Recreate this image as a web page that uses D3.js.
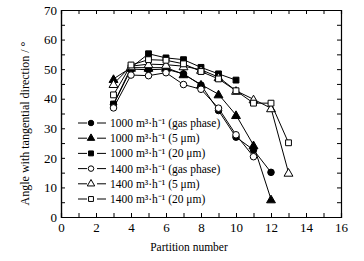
<!DOCTYPE html>
<html>
<head>
<meta charset="utf-8">
<script src="https://cdn.jsdelivr.net/npm/d3@7"></script>
<style>
  body { margin: 0; background: #fff; }
  text { font-family: "Liberation Serif", "Times New Roman", serif; fill: #000; }
</style>
</head>
<body>
<div class="chart-box"></div>
<script>
/* Data */
const xTicks = [0, 2, 4, 6, 8, 10, 12, 14, 16];
const yTicks = [0, 10, 20, 30, 40, 50, 60, 70];

const seriesNames = [
  "1000 m³·h⁻¹ (gas phase)",
  "1000 m³·h⁻¹ (5 μm)",
  "1000 m³·h⁻¹ (20 μm)",
  "1400 m³·h⁻¹ (gas phase)",
  "1400 m³·h⁻¹ (5 μm)",
  "1400 m³·h⁻¹ (20 μm)"
];
const seriesSymbols = ["circle", "triangle", "square", "circle", "triangle", "square"];
const seriesFilled = [true, true, true, false, false, false];

const gas1000 = [38, 50, 49.8, 50, 48.4, 44.6, 36, 27, 22.7, 15.1];
const um5_1000 = [46.7, 50.5, 50.5, 50.5, 48.3, 44.8, 41.5, 34.5, 24.3, 6];
const um20_1000 = [38.2, 50.5, 55.2, 53.8, 53.2, 50.6, 48.4, 46.3];
const gas1400 = [36.9, 48, 47.8, 48.8, 44.8, 43.2, 36.8, 27.8, 20.4];
const um5_1400 = [45, 51, 51.7, 51.5, 51, 49.8, 47.3, 42.7, 39.8, 36.8, 15];
const um20_1400 = [41.3, 51.4, 53.2, 53, 51.8, 49.2, 46.7, 42.7, 38.5, 38.5, 25.1];
const startPartition = 3;

const allSeries = [gas1000, um5_1000, um20_1000, gas1400, um5_1400, um20_1400];

/* Layout */
let width = 364, height = 261;
let margin = {left: 61, right: 23, top: 10, bottom: 44};

let svg = d3.select(".chart-box")
  .append("svg")
  .attr("width", width)
  .attr("height", height);

let x = d3.scaleLinear().domain([0, 16]).range([margin.left, width - margin.right]);
let y = d3.scaleLinear().domain([0, 70]).range([height - margin.bottom, margin.top]);

/* Axes: ticks inward on all four sides */
let minorX = d3.range(0, 17, 1);
let minorY = d3.range(0, 71, 5);

svg.append("g")
  .attr("transform", `translate(0,${y(0)})`)
  .call(d3.axisBottom(x).tickValues(minorX).tickSize(-4).tickFormat(""));
svg.append("g")
  .attr("transform", `translate(0,${y(0)})`)
  .call(d3.axisBottom(x).tickValues(xTicks).tickSize(0).tickPadding(6).tickFormat(d3.format("d")))
  .call(g => g.selectAll("text").style("font-size", "13px"));
svg.append("g")
  .attr("transform", `translate(0,${y(70)})`)
  .call(d3.axisTop(x).tickValues(minorX).tickSize(-4).tickFormat(""));

svg.append("g")
  .attr("transform", `translate(${x(0)},0)`)
  .call(d3.axisLeft(y).tickValues(minorY).tickSize(-4).tickFormat(""));
svg.append("g")
  .attr("transform", `translate(${x(0)},0)`)
  .call(d3.axisLeft(y).tickValues(yTicks).tickSize(0).tickPadding(4).tickFormat(d3.format("d")))
  .call(g => g.selectAll("text").style("font-size", "13px"));
svg.append("g")
  .attr("transform", `translate(${x(16)},0)`)
  .call(d3.axisRight(y).tickValues(minorY).tickSize(-4).tickFormat(""));

svg.selectAll(".domain").attr("stroke", "#000").attr("stroke-width", 1.2);
svg.selectAll(".tick line").attr("stroke", "#000");

/* Axis titles */
svg.append("text")
  .attr("x", x(8) - 12)
  .attr("y", 251)
  .attr("text-anchor", "middle")
  .style("font-size", "11.5px")
  .text("Partition number");

svg.append("text")
  .attr("transform", `translate(29,${y(35) + 10}) rotate(-90)`)
  .attr("text-anchor", "middle")
  .style("font-size", "12px")
  .text("Angle with tangential direction / °");

/* Markers */
function symbolFor(i) {
  if (seriesSymbols[i] === "circle") return d3.symbol().type(d3.symbolCircle).size(34);
  if (seriesSymbols[i] === "triangle") return d3.symbol().type(d3.symbolTriangle).size(34);
  return d3.symbol().type(d3.symbolSquare).size(34);
}

let line = d3.line()
  .x((d, i) => x(startPartition + i))
  .y(d => y(d));

allSeries.forEach((vals, si) => {
  let g = svg.append("g");
  g.append("path")
    .datum(vals)
    .attr("d", line)
    .attr("fill", "none")
    .attr("stroke", "#000")
    .attr("stroke-width", 1);
  g.selectAll("path.pt")
    .data(vals)
    .enter()
    .append("path")
    .attr("class", "pt")
    .attr("d", symbolFor(si))
    .attr("transform", (d, i) => `translate(${x(startPartition + i)},${y(d) + (seriesSymbols[si] === "triangle" ? 1 : 0)})`)
    .attr("fill", seriesFilled[si] ? "#000" : "#fff")
    .attr("stroke", "#000")
    .attr("stroke-width", 1);
});

/* Legend */
let legend = svg.append("g");
seriesNames.forEach((name, i) => {
  let ly = 123 + i * 15.2;
  legend.append("line")
    .attr("x1", 78).attr("x2", 106)
    .attr("y1", ly).attr("y2", ly)
    .attr("stroke", "#000")
    .attr("stroke-dasharray", "9,10");
  legend.append("path")
    .attr("d", d3.symbol().type(seriesSymbols[i] === "circle" ? d3.symbolCircle :
      seriesSymbols[i] === "triangle" ? d3.symbolTriangle : d3.symbolSquare).size(24))
    .attr("transform", `translate(91,${ly})`)
    .attr("fill", seriesFilled[i] ? "#000" : "#fff")
    .attr("stroke", "#000");
  legend.append("text")
    .attr("x", 110)
    .attr("y", ly + 4)
    .style("font-size", "11.5px")
    .text(name);
});
</script>
</body>
</html>
